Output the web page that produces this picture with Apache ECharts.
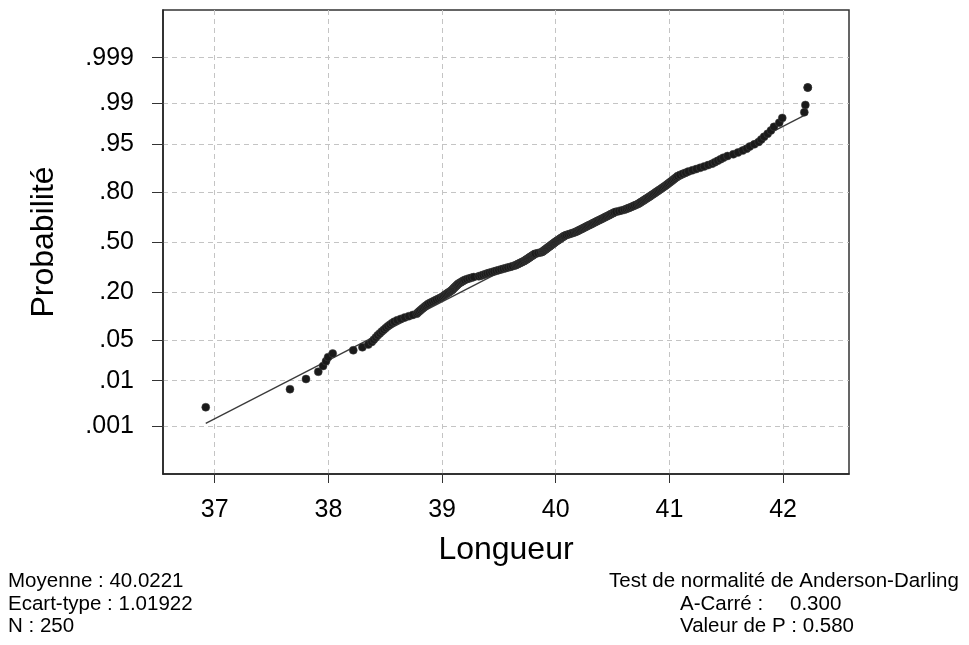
<!DOCTYPE html>
<html>
<head>
<meta charset="utf-8">
<title>Probabilité - Longueur</title>
<script src="https://cdn.jsdelivr.net/npm/echarts@6/dist/echarts.min.js"></script>
<style>html,body{margin:0;padding:0;background:#fff}#main{width:969px;height:645px}</style>
</head>
<body>
<div id="main"></div>
<script>
// longueurs triées (250 valeurs)
var longueurs = [
  36.921, 37.662, 37.803, 37.911, 37.953, 37.979, 37.997, 38.038, 38.219, 38.299,
  38.351, 38.381, 38.399, 38.417, 38.434, 38.452, 38.470, 38.488, 38.505, 38.523,
  38.541, 38.559, 38.579, 38.605, 38.636, 38.671, 38.707, 38.742, 38.777, 38.788,
  38.800, 38.811, 38.823, 38.834, 38.846, 38.857, 38.869, 38.881, 38.898, 38.916,
  38.933, 38.950, 38.968, 38.985, 39.000, 39.012, 39.023, 39.034, 39.046, 39.057,
  39.068, 39.079, 39.088, 39.095, 39.102, 39.109, 39.116, 39.123, 39.130, 39.137,
  39.144, 39.155, 39.166, 39.177, 39.188, 39.199, 39.217, 39.237, 39.258, 39.279,
  39.323, 39.341, 39.359, 39.378, 39.396, 39.415, 39.436, 39.456, 39.476, 39.496,
  39.517, 39.537, 39.558, 39.578, 39.599, 39.619, 39.640, 39.652, 39.663, 39.674,
  39.685, 39.697, 39.708, 39.719, 39.730, 39.738, 39.746, 39.754, 39.762, 39.770,
  39.778, 39.786, 39.795, 39.803, 39.811, 39.820, 39.843, 39.866, 39.881, 39.888,
  39.895, 39.902, 39.909, 39.916, 39.923, 39.930, 39.937, 39.944, 39.951, 39.958,
  39.965, 39.972, 39.979, 39.986, 39.993, 40.000, 40.008, 40.016, 40.024, 40.032,
  40.039, 40.047, 40.055, 40.063, 40.071, 40.079, 40.092, 40.108, 40.124, 40.141,
  40.157, 40.172, 40.183, 40.194, 40.204, 40.215, 40.226, 40.237, 40.247, 40.258,
  40.269, 40.279, 40.290, 40.301, 40.312, 40.323, 40.334, 40.345, 40.356, 40.367,
  40.378, 40.390, 40.401, 40.412, 40.424, 40.435, 40.446, 40.458, 40.469, 40.480,
  40.491, 40.503, 40.514, 40.529, 40.554, 40.578, 40.603, 40.620, 40.635, 40.649,
  40.664, 40.679, 40.693, 40.708, 40.723, 40.734, 40.744, 40.754, 40.765, 40.775,
  40.785, 40.795, 40.806, 40.816, 40.827, 40.837, 40.848, 40.859, 40.870, 40.880,
  40.891, 40.902, 40.913, 40.925, 40.936, 40.948, 40.959, 40.971, 40.982, 40.993,
  41.005, 41.016, 41.028, 41.039, 41.050, 41.062, 41.073, 41.092, 41.117, 41.142,
  41.167, 41.202, 41.236, 41.271, 41.306, 41.341, 41.375, 41.400, 41.425, 41.450,
  41.475, 41.511, 41.562, 41.603, 41.645, 41.680, 41.707, 41.747, 41.785, 41.808,
  41.833, 41.864, 41.893, 41.920, 41.966, 41.993, 42.187, 42.196, 42.217, 42.217
];
var probTicks = [0.001, 0.01, 0.05, 0.2, 0.5, 0.8, 0.95, 0.99, 0.999];
var probLabels = ['.001', '.01', '.05', '.20', '.50', '.80', '.95', '.99', '.999'];
var xTicks = [37, 38, 39, 40, 41, 42];
var moyenne = 40.0221;
var ecartType = 1.01922;
var texteGauche = ['Moyenne : 40.0221', 'Ecart-type : 1.01922', 'N : 250'];

// quantile de la loi normale (Acklam)
function qnorm(p) {
  var a = [-3.969683028665376e+01, 2.209460984245205e+02, -2.759285104469687e+02, 1.383577518672690e+02, -3.066479806614716e+01, 2.506628277459239e+00];
  var b = [-5.447609879822406e+01, 1.615858368580409e+02, -1.556989798598866e+02, 6.680131188771972e+01, -1.328068155288572e+01];
  var c = [-7.784894002430293e-03, -3.223964580411365e-01, -2.400758277161838e+00, -2.549732539343734e+00, 4.374664141464968e+00, 2.938163982698783e+00];
  var d = [7.784695709041462e-03, 3.224671290700398e-01, 2.445134137142996e+00, 3.754408661907416e+00];
  var pl = 0.02425, q, r;
  if (p < pl) {
    q = Math.sqrt(-2 * Math.log(p));
    return (((((c[0] * q + c[1]) * q + c[2]) * q + c[3]) * q + c[4]) * q + c[5]) / ((((d[0] * q + d[1]) * q + d[2]) * q + d[3]) * q + 1);
  }
  if (p > 1 - pl) {
    q = Math.sqrt(-2 * Math.log(1 - p));
    return -(((((c[0] * q + c[1]) * q + c[2]) * q + c[3]) * q + c[4]) * q + c[5]) / ((((d[0] * q + d[1]) * q + d[2]) * q + d[3]) * q + 1);
  }
  q = p - 0.5; r = q * q;
  return (((((a[0] * r + a[1]) * r + a[2]) * r + a[3]) * r + a[4]) * r + a[5]) * q / (((((b[0] * r + b[1]) * r + b[2]) * r + b[3]) * r + b[4]) * r + 1);
}

// rangs médians (Benard), ex aequo -> rang moyen
var n = longueurs.length;
var points = [];
var i = 0;
while (i < n) {
  var j = i;
  while (j + 1 < n && longueurs[j + 1] === longueurs[i]) j++;
  var rang = (i + j) / 2 + 1;
  for (var k = i; k <= j; k++) {
    points.push([longueurs[k], qnorm((rang - 0.3) / (n + 0.4))]);
  }
  i = j + 1;
}
var xMin = longueurs[0], xMax = longueurs[n - 1];
var droite = [
  [xMin, (xMin - moyenne) / ecartType],
  [xMax, (xMax - moyenne) / ecartType]
];
var zTicks = probTicks.map(qnorm);
var yLim = qnorm(0.99995);

var police = '"Liberation Sans", Arial, sans-serif';
var fontTexte = '20.5px ' + police;
var chart = echarts.init(document.getElementById('main'));
var grille = { lineStyle: { color: '#c4c4c4', type: [5, 4], width: 1 } };

var option = {
  backgroundColor: '#fff',
  animation: false,
  grid: {
    left: 163, right: 120, top: 10, bottom: 171,
    show: true, borderColor: '#333', borderWidth: 1.5, backgroundColor: 'transparent'
  },
  xAxis: {
    type: 'value',
    min: 36.545,
    max: 42.58,
    name: 'Longueur',
    nameLocation: 'middle',
    nameGap: 60,
    nameTextStyle: { fontFamily: police, fontSize: 32, color: '#000' },
    axisLine: { show: true, onZero: false, lineStyle: { color: '#222', width: 1.5 } },
    axisTick: { show: true, customValues: xTicks, length: 9, lineStyle: { color: '#333' } },
    axisLabel: {
      customValues: xTicks, margin: 24,
      fontFamily: police, fontSize: 25, color: '#000'
    },
    splitLine: Object.assign({ show: true }, grille)
  },
  yAxis: {
    type: 'value',
    min: -yLim,
    max: yLim,
    name: 'Probabilité',
    nameLocation: 'middle',
    nameGap: 103,
    nameRotate: 90,
    nameTextStyle: { fontFamily: police, fontSize: 32, color: '#000' },
    axisLine: { show: true, onZero: false, lineStyle: { color: '#222', width: 1.5 } },
    axisTick: { show: true, customValues: zTicks, length: 11, lineStyle: { color: '#333' } },
    axisLabel: {
      customValues: zTicks, margin: 29,
      fontFamily: police, fontSize: 25, color: '#000',
      formatter: function (v) {
        for (var t = 0; t < zTicks.length; t++) {
          if (Math.abs(zTicks[t] - v) < 1e-6) return probLabels[t];
        }
        return '';
      }
    },
    splitLine: Object.assign({ show: true }, grille)
  },
  series: [
    {
      type: 'line',
      data: droite,
      symbol: 'none',
      lineStyle: { color: '#3a3a3a', width: 1.3 },
      z: 2
    },
    {
      type: 'scatter',
      data: points,
      symbol: 'circle',
      symbolSize: 8,
      itemStyle: { color: '#1a1a1a', borderColor: '#444', borderWidth: 0.5, opacity: 1 },
      z: 3
    }
  ],
  graphic: [
    { type: 'text', left: 8, top: 571, style: { text: texteGauche[0], font: fontTexte, fill: '#000' } },
    { type: 'text', left: 8, top: 594, style: { text: texteGauche[1], font: fontTexte, fill: '#000' } },
    { type: 'text', left: 8, top: 616, style: { text: texteGauche[2], font: fontTexte, fill: '#000' } },
    { type: 'text', left: 609, top: 571, style: { text: 'Test de normalité de Anderson-Darling', font: fontTexte, fill: '#000' } },
    { type: 'text', left: 680, top: 594, style: { text: 'A-Carré :', font: fontTexte, fill: '#000' } },
    { type: 'text', left: 790, top: 594, style: { text: '0.300', font: fontTexte, fill: '#000' } },
    { type: 'text', left: 680, top: 616, style: { text: 'Valeur de P : 0.580', font: fontTexte, fill: '#000' } }
  ]
};
chart.setOption(option);
</script>
</body>
</html>
